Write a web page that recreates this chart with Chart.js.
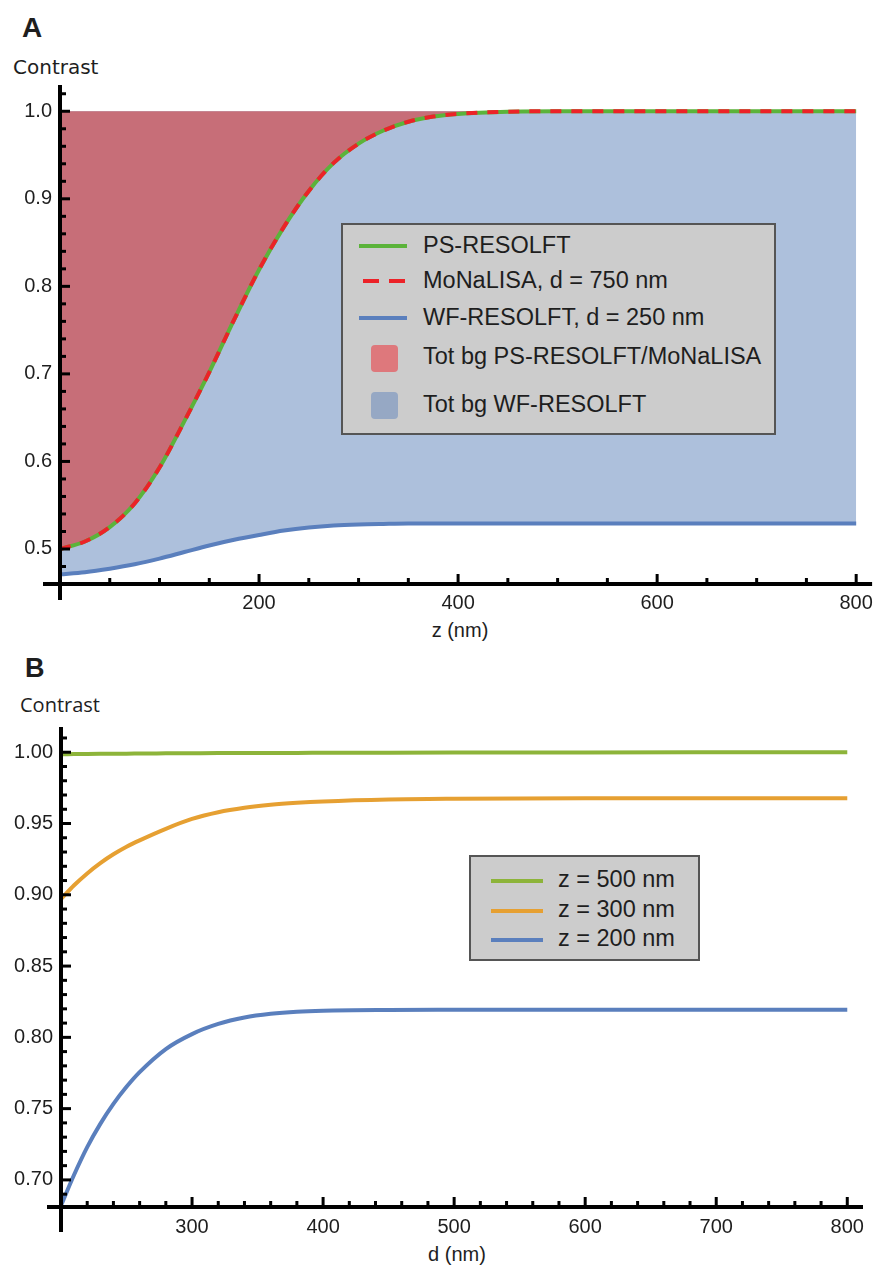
<!DOCTYPE html>
<html>
<head>
<meta charset="utf-8">
<script src="https://cdn.jsdelivr.net/npm/chart.js@4.4.1/dist/chart.umd.min.js"></script>
<style>
  body { margin: 0; background: #fff; width: 880px; height: 1270px; position: relative; overflow: hidden;
         font-family: "Liberation Sans", Arial, sans-serif; color: #1e1e1e; }
  .abs { position: absolute; line-height: 1; white-space: nowrap; }
  canvas { position: absolute; left: 0; }
  .box { position: absolute; box-sizing: border-box; background: #cccccc; border: 2px solid #555; }
  .sw { position: absolute; }
</style>
</head>
<body>
<div class="abs" style="left:22px;top:14px;font-size:28px;font-weight:bold;">A</div>
<div class="abs" style="left:13px;top:57px;font-size:20px;font-family:'DejaVu Sans';">Contrast</div>
<div class="abs" style="left:360px;top:620px;width:200px;text-align:center;font-size:20px;">z (nm)</div>

<div class="abs" style="left:25px;top:655px;font-size:27px;font-weight:bold;">B</div>
<div class="abs" style="left:20px;top:695px;font-size:20px;font-family:'Open Sans';">Contrast</div>
<div class="abs" style="left:357px;top:1244px;width:200px;text-align:center;font-size:20px;">d (nm)</div>

<canvas id="chartA" width="880" height="640" style="top:0"></canvas>
<canvas id="chartB" width="880" height="630" style="top:640px"></canvas>

<div id="legA"></div>
<div id="legB"></div>

<script>
// panel A: contrast vs z
var zA    = [0, 25, 50, 75, 100, 125, 150, 175, 200, 225, 250, 275, 300, 325, 350, 375, 400, 450, 500, 550, 600, 650, 700, 750, 800];
var psA   = [0.500, 0.5085, 0.525, 0.552, 0.593, 0.646, 0.702, 0.762, 0.819, 0.868, 0.909, 0.941, 0.963, 0.978, 0.988, 0.994, 0.997, 0.9995, 1.000, 1.000, 1.000, 1.000, 1.000, 1.000, 1.000];
var monaA = [0.500, 0.5085, 0.525, 0.552, 0.593, 0.646, 0.702, 0.762, 0.819, 0.868, 0.909, 0.941, 0.963, 0.978, 0.988, 0.994, 0.997, 0.9995, 1.000, 1.000, 1.000, 1.000, 1.000, 1.000, 1.000];
var wfA   = [0.471, 0.4735, 0.4775, 0.4825, 0.489, 0.4965, 0.504, 0.5105, 0.516, 0.521, 0.5245, 0.5268, 0.528, 0.5286, 0.529, 0.529, 0.529, 0.529, 0.529, 0.529, 0.529, 0.529, 0.529, 0.529, 0.529];
var namesA = ['PS-RESOLFT', 'MoNaLISA, d = 750 nm', 'WF-RESOLFT, d = 250 nm', 'Tot bg PS-RESOLFT/MoNaLISA', 'Tot bg WF-RESOLFT'];

// panel B: contrast vs d
var dB   = [200, 210, 220, 230, 240, 250, 260, 280, 300, 320, 340, 360, 380, 400, 450, 500, 600, 700, 800];
var z500 = [0.9986, 0.9987, 0.9988, 0.9989, 0.9990, 0.9990, 0.9991, 0.9992, 0.9993, 0.9994, 0.9994, 0.9995, 0.9995, 0.9996, 0.9997, 0.9998, 0.9999, 1.0000, 1.0000];
var z300 = [0.897, 0.9067, 0.915, 0.9222, 0.9284, 0.9337, 0.9382, 0.9463, 0.9532, 0.9579, 0.961, 0.9631, 0.9645, 0.9655, 0.9669, 0.9674, 0.9677, 0.9677, 0.9677];
var z200 = [0.682, 0.7036, 0.723, 0.7393, 0.7533, 0.7653, 0.7756, 0.7918, 0.8023, 0.8094, 0.8139, 0.8165, 0.818, 0.8187, 0.8192, 0.8193, 0.8193, 0.8193, 0.8193];
var namesB = ['z = 500 nm', 'z = 300 nm', 'z = 200 nm'];

var green = '#5bb33a', red = '#ec2228', blue = '#5a7fbd';
var redFill = '#c76e78', blueFill = '#adc0dc';
var greenB = '#8db43a', orangeB = '#e6a032';

function pts(xs, ys) {
  var out = [];
  for (let i = 0; i < xs.length; i++) out.push({x: xs[i], y: ys[i]});
  return out;
}
function isMaj(v, step) {
  var r = v / step;
  return Math.abs(r - Math.round(r)) < 1e-6;
}

// Mathematica-like axes: thick lines crossing at the origin, ticks pointing inward
const mmaAxes = {
  id: 'mmaAxes',
  afterDraw(chart, args, o) {
    const ctx = chart.ctx, xs = chart.scales.x, ys = chart.scales.y;
    const x0 = xs.getPixelForValue(o.xo), y0 = ys.getPixelForValue(o.yo);
    ctx.save();
    ctx.strokeStyle = '#000';
    ctx.lineCap = 'butt';
    ctx.lineWidth = 3;
    xs.ticks.forEach(t => {
      if (Math.abs(t.value - o.xo) < 1e-9) return;
      const px = xs.getPixelForValue(t.value);
      ctx.beginPath();
      ctx.moveTo(px, y0);
      ctx.lineTo(px, y0 - (isMaj(t.value, o.xMaj) ? 10 : 6));
      ctx.stroke();
    });
    ys.ticks.forEach(t => {
      if (Math.abs(t.value - o.yo) < 1e-9) return;
      const py = ys.getPixelForValue(t.value);
      ctx.beginPath();
      ctx.moveTo(x0, py);
      ctx.lineTo(x0 + (isMaj(t.value, o.yMaj) ? 10 : 6), py);
      ctx.stroke();
    });
    ctx.lineWidth = 4;
    ctx.beginPath();
    ctx.moveTo(x0 - o.xExt, y0); ctx.lineTo(xs.right, y0);
    ctx.moveTo(x0, ys.top); ctx.lineTo(x0, y0 + o.yExt);
    ctx.stroke();
    ctx.restore();
  }
};

var tickFont = {family: 'Liberation Sans', size: 20};
var noGrid = {display: false, drawTicks: false};

new Chart(document.getElementById('chartA'), {
  type: 'line',
  data: {
    datasets: [
      {label: namesA[1], data: pts(zA, monaA), borderColor: red, borderWidth: 4, borderDash: [11, 10], fill: false},
      {label: namesA[0], data: pts(zA, psA), borderColor: green, borderWidth: 4, fill: {value: 1}, backgroundColor: redFill},
      {label: namesA[2], data: pts(zA, wfA), borderColor: blue, borderWidth: 4, fill: {value: 1}, backgroundColor: blueFill}
    ]
  },
  options: {
    responsive: false,
    animation: false,
    layout: {padding: {top: 85, right: 7, left: 0, bottom: 0}},
    elements: {point: {radius: 0}, line: {cubicInterpolationMode: 'monotone', borderCapStyle: 'butt'}},
    plugins: {
      legend: {display: false},
      tooltip: {enabled: false},
      mmaAxes: {xo: 0, yo: 0.46, xMaj: 200, yMaj: 0.1, xExt: 17, yExt: 16}
    },
    scales: {
      x: {
        type: 'linear', min: 0, max: 816,
        afterFit(s) { s.height = 56; },
        grid: noGrid, border: {display: false},
        ticks: {stepSize: 50, includeBounds: false, autoSkip: false, maxRotation: 0, padding: 7,
                font: tickFont, color: '#1e1e1e',
                callback: v => (isMaj(v, 200) && v !== 0) ? String(v) : ''}
      },
      y: {
        type: 'linear', min: 0.46, max: 1.03,
        afterFit(s) { s.width = 60; },
        grid: noGrid, border: {display: false},
        ticks: {stepSize: 0.02, includeBounds: false, autoSkip: false, padding: 8,
                font: tickFont, color: '#1e1e1e',
                callback: v => isMaj(v, 0.1) ? v.toFixed(1) : ''}
      }
    }
  },
  plugins: [mmaAxes]
});

new Chart(document.getElementById('chartB'), {
  type: 'line',
  data: {
    datasets: [
      {label: namesB[0], data: pts(dB, z500), borderColor: greenB, borderWidth: 4, fill: false},
      {label: namesB[1], data: pts(dB, z300), borderColor: orangeB, borderWidth: 4, fill: false},
      {label: namesB[2], data: pts(dB, z200), borderColor: blue, borderWidth: 4, fill: false}
    ]
  },
  options: {
    responsive: false,
    animation: false,
    layout: {padding: {top: 87, right: 17, left: 0, bottom: 0}},
    elements: {point: {radius: 0}, line: {cubicInterpolationMode: 'monotone', borderCapStyle: 'butt'}},
    plugins: {
      legend: {display: false},
      tooltip: {enabled: false},
      mmaAxes: {xo: 200, yo: 0.681, xMaj: 100, yMaj: 0.05, xExt: 14, yExt: 25}
    },
    scales: {
      x: {
        type: 'linear', min: 200, max: 812,
        afterFit(s) { s.height = 63; },
        grid: noGrid, border: {display: false},
        ticks: {stepSize: 20, includeBounds: false, autoSkip: false, maxRotation: 0, padding: 8,
                font: tickFont, color: '#1e1e1e',
                callback: v => (isMaj(v, 100) && v !== 200) ? String(v) : ''}
      },
      y: {
        type: 'linear', min: 0.681, max: 1.0177,
        afterFit(s) { s.width = 61; },
        grid: noGrid, border: {display: false},
        ticks: {stepSize: 0.01, includeBounds: false, autoSkip: false, padding: 8,
                font: tickFont, color: '#1e1e1e',
                callback: v => isMaj(v, 0.05) ? v.toFixed(2) : ''}
      }
    }
  },
  plugins: [mmaAxes]
});

// legends (html overlays)
function legend(el, box, rows) {
  var html = '<div class="box" style="left:' + box[0] + 'px;top:' + box[1] + 'px;width:' + box[2] + 'px;height:' + box[3] + 'px"></div>';
  rows.forEach(r => {
    html += '<div class="sw" style="' + r.sw + '"></div>';
    html += '<div class="abs" style="left:' + r.tx + 'px;top:' + r.ty + 'px;font-size:' + r.fs + 'px">' + r.text + '</div>';
  });
  el.innerHTML = html;
}

legend(document.getElementById('legA'), [341, 223, 435, 212], [
  {text: namesA[0], tx: 423, ty: 234, fs: 23.5, sw: 'left:359px;top:244px;width:48px;height:4px;background:' + green},
  {text: namesA[1], tx: 423, ty: 269, fs: 23.5, sw: 'left:363px;top:279px;width:42px;height:4px;background:repeating-linear-gradient(90deg,' + red + ' 0 16px,transparent 16px 26px)'},
  {text: namesA[2], tx: 423, ty: 306, fs: 23.5, sw: 'left:359px;top:316px;width:48px;height:4px;background:' + blue},
  {text: namesA[3], tx: 423, ty: 345, fs: 23.5, sw: 'left:371px;top:345px;width:27px;height:27px;border-radius:4px;background:#de787c'},
  {text: namesA[4], tx: 423, ty: 392.5, fs: 23.5, sw: 'left:371px;top:392px;width:27px;height:27px;border-radius:4px;background:#96a8c4'}
]);

legend(document.getElementById('legB'), [469, 855, 231, 106], [
  {text: namesB[0], tx: 558, ty: 868, fs: 23.5, sw: 'left:491px;top:879px;width:52px;height:4px;background:' + greenB},
  {text: namesB[1], tx: 558, ty: 898, fs: 23.5, sw: 'left:491px;top:909px;width:52px;height:4px;background:' + orangeB},
  {text: namesB[2], tx: 558, ty: 927, fs: 23.5, sw: 'left:491px;top:938px;width:52px;height:4px;background:' + blue}
]);
</script>
</body>
</html>
